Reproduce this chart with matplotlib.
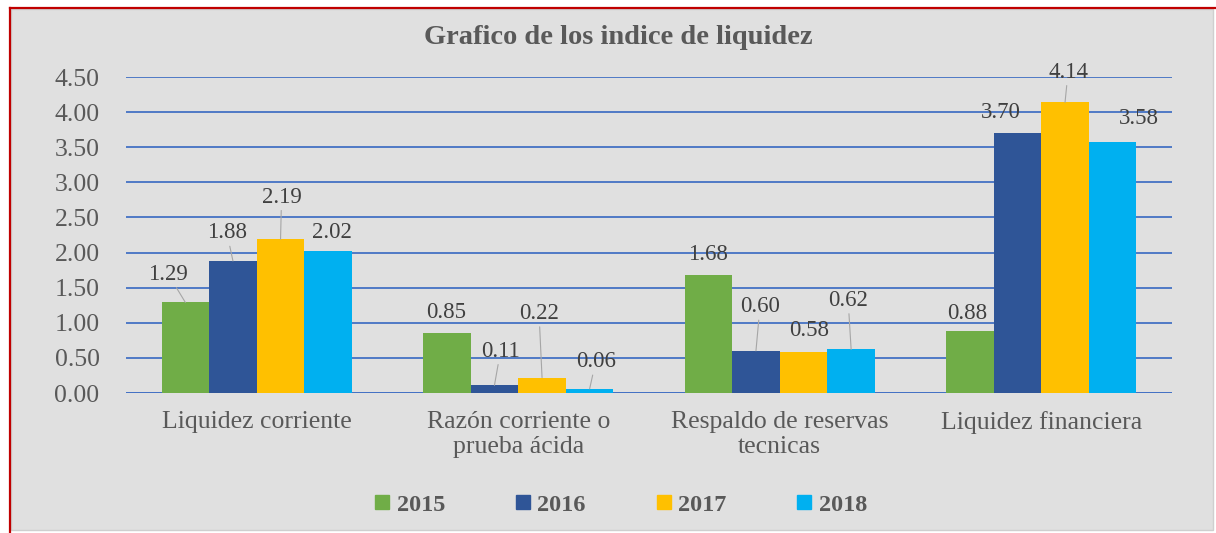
import numpy as np
import matplotlib.pyplot as plt
from matplotlib.patches import Rectangle
from matplotlib.lines import Line2D

# -------- data --------
categories = ["Liquidez corriente", "Razón corriente o\nprueba ácida",
              "Respaldo de reservas\ntecnicas", "Liquidez financiera"]
years = ["2015", "2016", "2017", "2018"]
v2015 = [1.29, 0.85, 1.68, 0.88]
v2016 = [1.88, 0.11, 0.60, 3.70]
v2017 = [2.19, 0.22, 0.58, 4.14]
v2018 = [2.02, 0.06, 0.62, 3.58]
yticks = [0.0, 0.5, 1.0, 1.5, 2.0, 2.5, 3.0, 3.5, 4.0, 4.5]

# -------- styling --------
colors = ["#70ad47", "#2f5597", "#ffc000", "#00b0f0"]
# data-label placement (dx, dy in pixels from bar top, draw leader line)
label_pos = [
    [(-17, 28, True), (-1, 21, False), (0, 21, False), (-3, 18, False)],
    [(-6, 28, True), (6, 34, True), (4, 44, True), (-17, 21, False)],
    [(1, 42, True), (-3, 64, True), (6, 22, False), (3, 30, True)],
    [(4, 19, False), (6, 27, True), (-3, 49, True), (26, 23, False)],
]
TXT = "#595959"
GRID = "#4472c4"
SERIF = ["Liberation Serif", "DejaVu Serif"]
W, H = 1216, 533

plt.rcParams["font.family"] = SERIF

fig = plt.figure(figsize=(W / 100, H / 100), dpi=100)
fig.patch.set_facecolor("white")

# chart panel + red frame
fig.add_artist(Rectangle((11 / W, 3 / H), 1202 / W, 521 / H, transform=fig.transFigure,
                         facecolor="#e0e0e0", edgecolor="#cfcfcf", lw=1, zorder=0))
fig.add_artist(Line2D([9.5 / W, 1.0], [1 - 7.5 / H, 1 - 7.5 / H], transform=fig.transFigure,
                      color="#c00000", lw=1.6, zorder=1))
fig.add_artist(Line2D([9.5 / W, 9.5 / W], [0.0, 1 - 7.5 / H], transform=fig.transFigure,
                      color="#c00000", lw=1.6, zorder=1))

ax = fig.add_axes([126 / W, 140 / H, 1046 / W, 316 / H])
ax.set_facecolor("none")

series = [v2015, v2016, v2017, v2018]
x = np.arange(len(categories))
bw = 0.182
for i, vals in enumerate(series):
    xs = x + (i - 1.5) * bw
    ax.bar(xs, vals, width=bw, color=colors[i], zorder=3, label=years[i])
    for j, v in enumerate(vals):
        dx, dy, leader = label_pos[i][j]
        ap = None
        if leader:
            ap = dict(arrowstyle="-", color="#a6a6a6", lw=0.8, shrinkA=0, shrinkB=0)
        ax.annotate(f"{v:.2f}", xy=(xs[j], v), xytext=(dx, dy),
                    textcoords="offset pixels", ha="center", va="center",
                    fontsize=16.5, color="#404040", arrowprops=ap, zorder=4)

ax.set_xlim(-0.5, len(categories) - 0.5)
ax.set_ylim(0, 4.5)
ax.set_yticks(yticks)
ax.set_yticklabels([f"{t:.2f}" for t in yticks])
ax.set_xticks(x)
ax.set_xticklabels(categories, linespacing=1.15)
ax.tick_params(axis="y", length=0, pad=19, labelsize=18.5, labelcolor=TXT)
ax.tick_params(axis="x", length=0, pad=13, labelsize=18.5, labelcolor=TXT)
for s in ax.spines.values():
    s.set_visible(False)
ax.grid(axis="y", color=GRID, lw=1.3, zorder=1)
ax.axhline(0, color=GRID, lw=1.3, zorder=2)

fig.text(618 / W, 1 - 38 / H, "Grafico de los indice de liquidez", ha="center", va="center",
         fontsize=20.5, fontweight="bold", color=TXT)

handles = [Line2D([], [], marker="s", linestyle="none", markersize=10,
                  markerfacecolor=c, markeredgecolor=c) for c in colors]
leg = fig.legend(handles, years, loc="center", bbox_to_anchor=(621 / W, 1 - 505 / H),
                 ncol=4, frameon=False, handlelength=0.6, handletextpad=0.3,
                 columnspacing=2.9, prop={"family": SERIF, "weight": "bold", "size": 17.5})
for t in leg.get_texts():
    t.set_color(TXT)

fig.savefig("out.png", dpi=100)
